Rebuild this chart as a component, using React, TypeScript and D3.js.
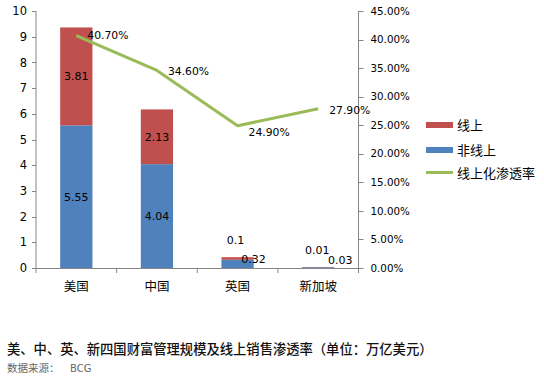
import React from "react";
import * as d3 from "d3";

const categories = ["美国", "中国", "英国", "新加坡"];
const offline = [5.55, 4.04, 0.32, 0.03];
const online = [3.81, 2.13, 0.1, 0.01];
const rate = [0.407, 0.346, 0.249, 0.279];
const leftTicks = [0, 1, 2, 3, 4, 5, 6, 7, 8, 9, 10];
const rightTicks = [0, 0.05, 0.1, 0.15, 0.2, 0.25, 0.3, 0.35, 0.4, 0.45];
const seriesNames = ["线上", "非线上", "线上化渗透率"];
const caption = "美、中、英、新四国财富管理规模及线上销售渗透率（单位：万亿美元）";
const sourceLabel = "数据来源：";
const sourceName = "BCG";

// label placement tweaks (style, not data)
const rateLabelDy = [0, 1, 6, 1];
const smallLabelShift: Record<number, { on: [number, number]; off: [number, number] }> = {
  2: { on: [-2, -18], off: [16, -5] },
  3: { on: [-1, -17], off: [22, -8] },
};

const RED = "#C0504D";
const BLUE = "#4F81BD";
const GREEN = "#9BBB59";
const AXIS = "#868686";
const FONT = "'DejaVu Sans', sans-serif";
const CJK = "'Noto Sans CJK SC', sans-serif";

export default function App() {
  const x0 = 36, x1 = 358.5, yTop = 11, yBot = 268;
  const x = d3.scaleBand<string>().domain(categories).range([x0, x1]).paddingInner(0.6).paddingOuter(0.3);
  const xb = d3.scaleBand<string>().domain(categories).range([x0, x1]);
  const y = d3.scaleLinear().domain([0, 10]).range([yBot, yTop]);
  const y2 = d3.scaleLinear().domain([0, 0.45]).range([yBot, yTop]);
  const cx = (c: string) => (x(c) as number) + x.bandwidth() / 2;
  const line = d3.line<number>().x((_, i) => cx(categories[i])).y((d) => y2(d));
  const boundaries = [x0, ...categories.map((c) => (xb(c) as number) + xb.bandwidth())];
  const fmtPct = d3.format(".2%");

  return (
    <svg width={544} height={377} style={{ position: "absolute", left: 0, top: 0, background: "#fff" }}>
      {/* bars */}
      {categories.map((c, i) => {
        const bx = x(c) as number;
        const w = x.bandwidth();
        return (
          <g key={c}>
            <rect x={bx} y={y(offline[i])} width={w} height={y(0) - y(offline[i])} fill={BLUE} />
            <rect x={bx} y={y(offline[i] + online[i])} width={w} height={y(offline[i]) - y(offline[i] + online[i])} fill={RED} />
          </g>
        );
      })}
      {/* axes */}
      <line x1={x0} x2={x0} y1={yTop} y2={yBot} stroke={AXIS} />
      <line x1={x1} x2={x1} y1={yTop} y2={yBot} stroke={AXIS} />
      <line x1={x0 - 4} x2={x1} y1={yBot + 0.5} y2={yBot + 0.5} stroke={AXIS} />
      {leftTicks.map((t) => (
        <g key={t}>
          <line x1={x0 - 4} x2={x0} y1={Math.round(y(t)) + 0.5} y2={Math.round(y(t)) + 0.5} stroke={AXIS} />
          <text x={x0 - 9} y={y(t)} dy="0.36em" textAnchor="end" fontFamily={FONT} fontSize={11.5} fill="#000">{t}</text>
        </g>
      ))}
      {rightTicks.map((t) => (
        <g key={t}>
          <line x1={x1} x2={x1 + 5} y1={Math.round(y2(t)) + 0.5} y2={Math.round(y2(t)) + 0.5} stroke={AXIS} />
          <text x={x1 + 12} y={y2(t)} dy="0.36em" fontFamily={FONT} fontSize={10.3} fill="#000">{fmtPct(t)}</text>
        </g>
      ))}
      {boundaries.map((b, i) => (
        <line key={i} x1={b} x2={b} y1={yBot} y2={yBot + 5} stroke={AXIS} />
      ))}
      {categories.map((c) => (
        <text key={c} x={cx(c)} y={286} dy="0.36em" textAnchor="middle" fontFamily={CJK} fontSize={12.5} fill="#000">{c}</text>
      ))}
      {/* bar labels */}
      {categories.map((c, i) => {
        const sh = smallLabelShift[i];
        const onY = y(offline[i] + online[i] / 2);
        const offY = y(offline[i] / 2);
        return (
          <g key={c} fontFamily={FONT} fontSize={11} fill="#000">
            <text x={cx(c) + (sh ? sh.on[0] : 0)} y={onY + (sh ? sh.on[1] : 0)} dy="0.36em" textAnchor="middle">{online[i]}</text>
            <text x={cx(c) + (sh ? sh.off[0] : 0)} y={offY + (sh ? sh.off[1] : 0)} dy="0.36em" textAnchor="middle">{offline[i]}</text>
          </g>
        );
      })}
      {/* line */}
      <path d={line(rate) || ""} fill="none" stroke={GREEN} strokeWidth={3} strokeLinejoin="round" />
      {rate.map((r, i) => (
        <text key={i} x={cx(categories[i]) + 11} y={y2(r) + rateLabelDy[i]} dy="0.36em" fontFamily={FONT} fontSize={10.8} fill="#000">{fmtPct(r)}</text>
      ))}
      {/* legend */}
      <rect x={426} y={122} width={27} height={6} fill={RED} />
      <text x={457} y={125} dy="0.36em" fontFamily={CJK} fontSize={13} fill="#000">{seriesNames[0]}</text>
      <rect x={426} y={147} width={27} height={6} fill={BLUE} />
      <text x={457} y={150} dy="0.36em" fontFamily={CJK} fontSize={13} fill="#000">{seriesNames[1]}</text>
      <line x1={426} x2={453} y1={172.5} y2={172.5} stroke={GREEN} strokeWidth={3} />
      <text x={457} y={173} dy="0.36em" fontFamily={CJK} fontSize={13} fill="#000">{seriesNames[2]}</text>
      {/* caption */}
      <text x={7} y={349} dy="0.36em" fontFamily={CJK} fontSize={13.3} fontWeight={500} fill="#111">{caption}</text>
      <text x={7} y={368} dy="0.36em" fontFamily={CJK} fontSize={10.5} fill="#666">{sourceLabel}</text>
      <text x={70} y={368} dy="0.36em" fontFamily={FONT} fontSize={10} fill="#666">{sourceName}</text>
    </svg>
  );
}
